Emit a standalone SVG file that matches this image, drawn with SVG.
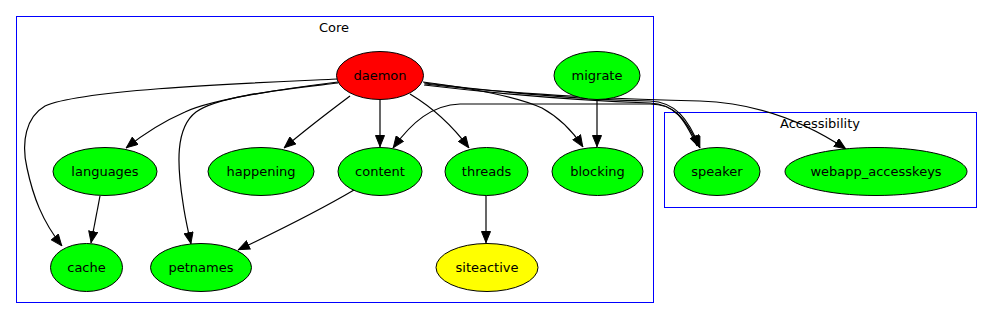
<svg xmlns="http://www.w3.org/2000/svg" width="993" height="319" viewBox="0 0 993 319">
<style>
text{font-family:"DejaVu Sans",sans-serif;font-size:13px;fill:#000;text-anchor:middle}
.n ellipse{stroke:#000;stroke-width:1;fill:#00ff00}
.c{fill:none;stroke:#0000ff;stroke-width:1}
.e path{fill:none;stroke:#000;stroke-width:1.2}
</style>
<defs>
<marker id="a" viewBox="0 0 12 10" refX="12" refY="5" markerWidth="12" markerHeight="10" markerUnits="userSpaceOnUse" orient="auto">
<path d="M0.5,0.5 L11.5,5 L0.5,9.5 Z" fill="#000" stroke="#000"/>
</marker>
</defs>
<rect width="993" height="319" fill="#fff"/>
<g id="cluster_core">
<rect class="c" x="16.5" y="16.5" width="637" height="286"/>
<text x="334" y="32">Core</text>
</g>
<g id="cluster_accessibility">
<rect class="c" x="664.5" y="112.5" width="312" height="95"/>
<text x="820" y="128">Accessibility</text>
</g>
<g class="e" id="edges">
<path marker-end="url(#a)" d="M337,79 C280,82 85,88 45,106 C26,117 21,142 27,168 C33,196 42,221 62,246"/>
<path marker-end="url(#a)" d="M338,82 C290,88 215,98 185,112 C162,122 145,133 126,148"/>
<path marker-end="url(#a)" d="M338,83 C280,90 218,96 196,112 C175,128 177,165 183,203 C185,218 188,230 191,244"/>
<path marker-end="url(#a)" d="M350,96 C330,111 305,130 284,148"/>
<path marker-end="url(#a)" d="M380,99.5 L380,147"/>
<path marker-end="url(#a)" d="M410,94 C430,106 452,125 469,148"/>
<path marker-end="url(#a)" d="M423,82 C470,88 515,96 542,108 C560,118 572,130 583,147"/>
<path marker-end="url(#a)" d="M597,99.5 L597,147"/>
<path marker-end="url(#a)" d="M424,83 C500,92 590,100 650,101 C675,102 688,118 700,148"/>
<path marker-end="url(#a)" d="M424,85 C500,94 590,101 650,103 C673,104 686,118 699,147"/>
<path marker-end="url(#a)" d="M425,84 C520,95 640,100 700,101 C760,103 810,125 846,149"/>
<path marker-end="url(#a)" d="M697,146 C684,118 675,104 650,104 L460,104 C432,105 412,122 393,148"/>
<path marker-end="url(#a)" d="M354,190 C320,210 280,230 238,250"/>
<path marker-end="url(#a)" d="M100,196 L91,243"/>
<path marker-end="url(#a)" d="M486,195.5 L486,243"/>
</g>
<g class="n" id="daemon"><ellipse cx="380" cy="75.5" rx="43.5" ry="24" style="fill:#ff0000"/><text x="380" y="80">daemon</text></g>
<g class="n" id="migrate"><ellipse cx="597" cy="75.5" rx="43" ry="24"/><text x="597" y="80">migrate</text></g>
<g class="n" id="languages"><ellipse cx="105" cy="171.5" rx="52" ry="24"/><text x="105" y="176">languages</text></g>
<g class="n" id="happening"><ellipse cx="261" cy="171.5" rx="53" ry="24"/><text x="261" y="176">happening</text></g>
<g class="n" id="content"><ellipse cx="380" cy="171.5" rx="42" ry="24"/><text x="380" y="176">content</text></g>
<g class="n" id="threads"><ellipse cx="486.5" cy="171.5" rx="41.5" ry="24"/><text x="486.5" y="176">threads</text></g>
<g class="n" id="blocking"><ellipse cx="597.5" cy="171.5" rx="45.5" ry="24"/><text x="597.5" y="176">blocking</text></g>
<g class="n" id="speaker"><ellipse cx="717" cy="171.5" rx="43" ry="24"/><text x="717" y="176">speaker</text></g>
<g class="n" id="webapp_accesskeys"><ellipse cx="876" cy="171.5" rx="91" ry="24"/><text x="876" y="176">webapp_accesskeys</text></g>
<g class="n" id="cache"><ellipse cx="86.5" cy="267.5" rx="36" ry="24"/><text x="86.5" y="272">cache</text></g>
<g class="n" id="petnames"><ellipse cx="201" cy="267.5" rx="50.5" ry="24"/><text x="201" y="272">petnames</text></g>
<g class="n" id="siteactive"><ellipse cx="487" cy="267.5" rx="51" ry="24" style="fill:#ffff00"/><text x="487" y="272">siteactive</text></g>
</svg>
